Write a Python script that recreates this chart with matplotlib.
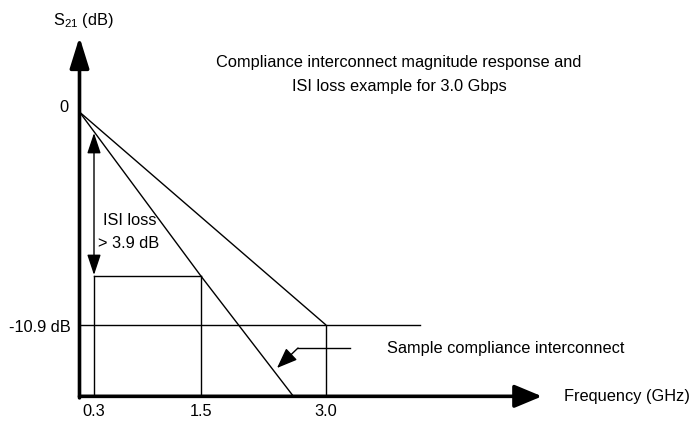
import numpy as np
import matplotlib
matplotlib.use("Agg")
import matplotlib.pyplot as plt

# ---------------- data (read from the schematic) ----------------
freq_ticks = [0.3, 1.5, 3.0]                 # GHz tick labels
tick_labels = ["0.3", "1.5", "3.0"]
level_0 = 0.0                                 # dB
level_limit = -10.9                           # dB at 3.0 GHz
isi_level = -8.4                              # dB level at 1.5 GHz (schematic)
axis_floor = -14.55                           # dB where the frequency axis sits
# compliance magnitude response envelope (straight line 0 -> -10.9 dB at 3 GHz)
env_f = [0.0, 3.0]
env_db = [0.0, -10.9]
# sample compliance interconnect (steeper line)
sample_f = [0.0, 1.5, 2.6]
sample_db = [0.0, -8.4, -14.5]

# ---------------- layout ----------------
W, H = 693, 425
fig = plt.figure(figsize=(W / 100, H / 100), dpi=100)
ax = fig.add_axes([0, 0, 1, 1])
ax.set_axis_off()

plt.rcParams['mathtext.fontset'] = 'custom'
plt.rcParams['mathtext.rm'] = 'Liberation Sans'
FONT = ['Liberation Sans', 'DejaVu Sans']
FS = 11.8

# schematic (non-uniform) frequency axis: piecewise-linear scale
knot_f = np.array([-2.0, 0.0, 0.3, 1.5, 3.0, 12.0])
knot_p = np.array([79.5 - 2 * 48.3, 79.5, 94.0, 201.0, 326.0, 326.0 + 9 * 83.33])

def fwd(f):
    return np.interp(f, knot_f, knot_p)

def inv(p):
    return np.interp(p, knot_p, knot_f)

ax.set_xscale('function', functions=(fwd, inv))
ax.set_xlim(inv(0), inv(W))
# y: 0 dB at pixel 112, -10.9 dB at pixel 325
ppd = (325 - 112) / 10.9
ax.set_ylim((112 - H) / ppd, 112 / ppd)

def px(x, y):
    return (x / W, 1 - y / H)

def ydb(p):
    return (112 - p) / ppd

thin = 1.0
k = 'black'

# axes with arrows
f_axis_end = inv(542)
ax.annotate('', xy=(f_axis_end, axis_floor), xytext=(0.0, axis_floor),
            arrowprops=dict(arrowstyle='-|>,head_length=1.2,head_width=0.5',
                            lw=2.6, color=k, mutation_scale=14, shrinkA=0, shrinkB=0))
ax.annotate('', xy=(0.0, ydb(37)), xytext=(0.0, axis_floor - 0.08),
            arrowprops=dict(arrowstyle='-|>,head_length=1.35,head_width=0.42',
                            lw=2.6, color=k, mutation_scale=14, shrinkA=0, shrinkB=0))

# response lines
ax.plot(env_f, env_db, color=k, lw=thin, solid_capstyle='butt')
ax.plot(sample_f, sample_db, color=k, lw=thin, solid_capstyle='butt')

# -10.9 dB horizontal line
ax.plot([0.0, inv(420)], [level_limit, level_limit], color=k, lw=thin)
# vertical at 3.0 GHz
ax.plot([3.0, 3.0], [axis_floor, level_limit], color=k, lw=thin)
# ISI box
ax.plot([0.3, 1.5], [isi_level, isi_level], color=k, lw=thin)
ax.plot([1.5, 1.5], [axis_floor, isi_level], color=k, lw=thin)
ax.plot([0.3, 0.3], [axis_floor, isi_level], color=k, lw=thin)
# ISI loss double arrow
ax.annotate('', xy=(0.3, ydb(133)), xytext=(0.3, ydb(275)),
            arrowprops=dict(arrowstyle='<|-|>,head_length=0.9,head_width=0.3',
                            lw=thin, color=k, mutation_scale=14, shrinkA=0, shrinkB=0))

# pointer to sample line
ax.plot([inv(298), inv(350)], [ydb(348), ydb(348)], color=k, lw=thin)
ax.annotate('', xy=(inv(277), ydb(368)), xytext=(inv(298), ydb(348)),
            arrowprops=dict(arrowstyle='-|>,head_length=0.9,head_width=0.35',
                            lw=thin, color=k, mutation_scale=14, shrinkA=0, shrinkB=0))

# ---------------- texts ----------------
def T(x, y, s, ha='left', va='center', **kw):
    fig.text(*px(x, y), s, ha=ha, va=va, family=FONT, fontsize=FS, color=k, **kw)

T(53, 21, r'$\mathregular{S_{21}}$ (dB)')
T(64, 108, '0', ha='center')
T(71, 327, '-10.9 dB', ha='right')
T(103, 220, 'ISI loss')
T(98, 244, '> 3.9 dB')
T(387, 348, 'Sample compliance interconnect')
T(564, 396, 'Frequency (GHz)')
T(399, 62, 'Compliance interconnect magnitude response and', ha='center')
T(399, 86, 'ISI loss example for 3.0 Gbps', ha='center')

for f, lab in zip(freq_ticks, tick_labels):
    ax.text(f, ydb(412), lab, ha='center', va='center', family=FONT, fontsize=FS, color=k)

fig.savefig('out.png', dpi=100)
